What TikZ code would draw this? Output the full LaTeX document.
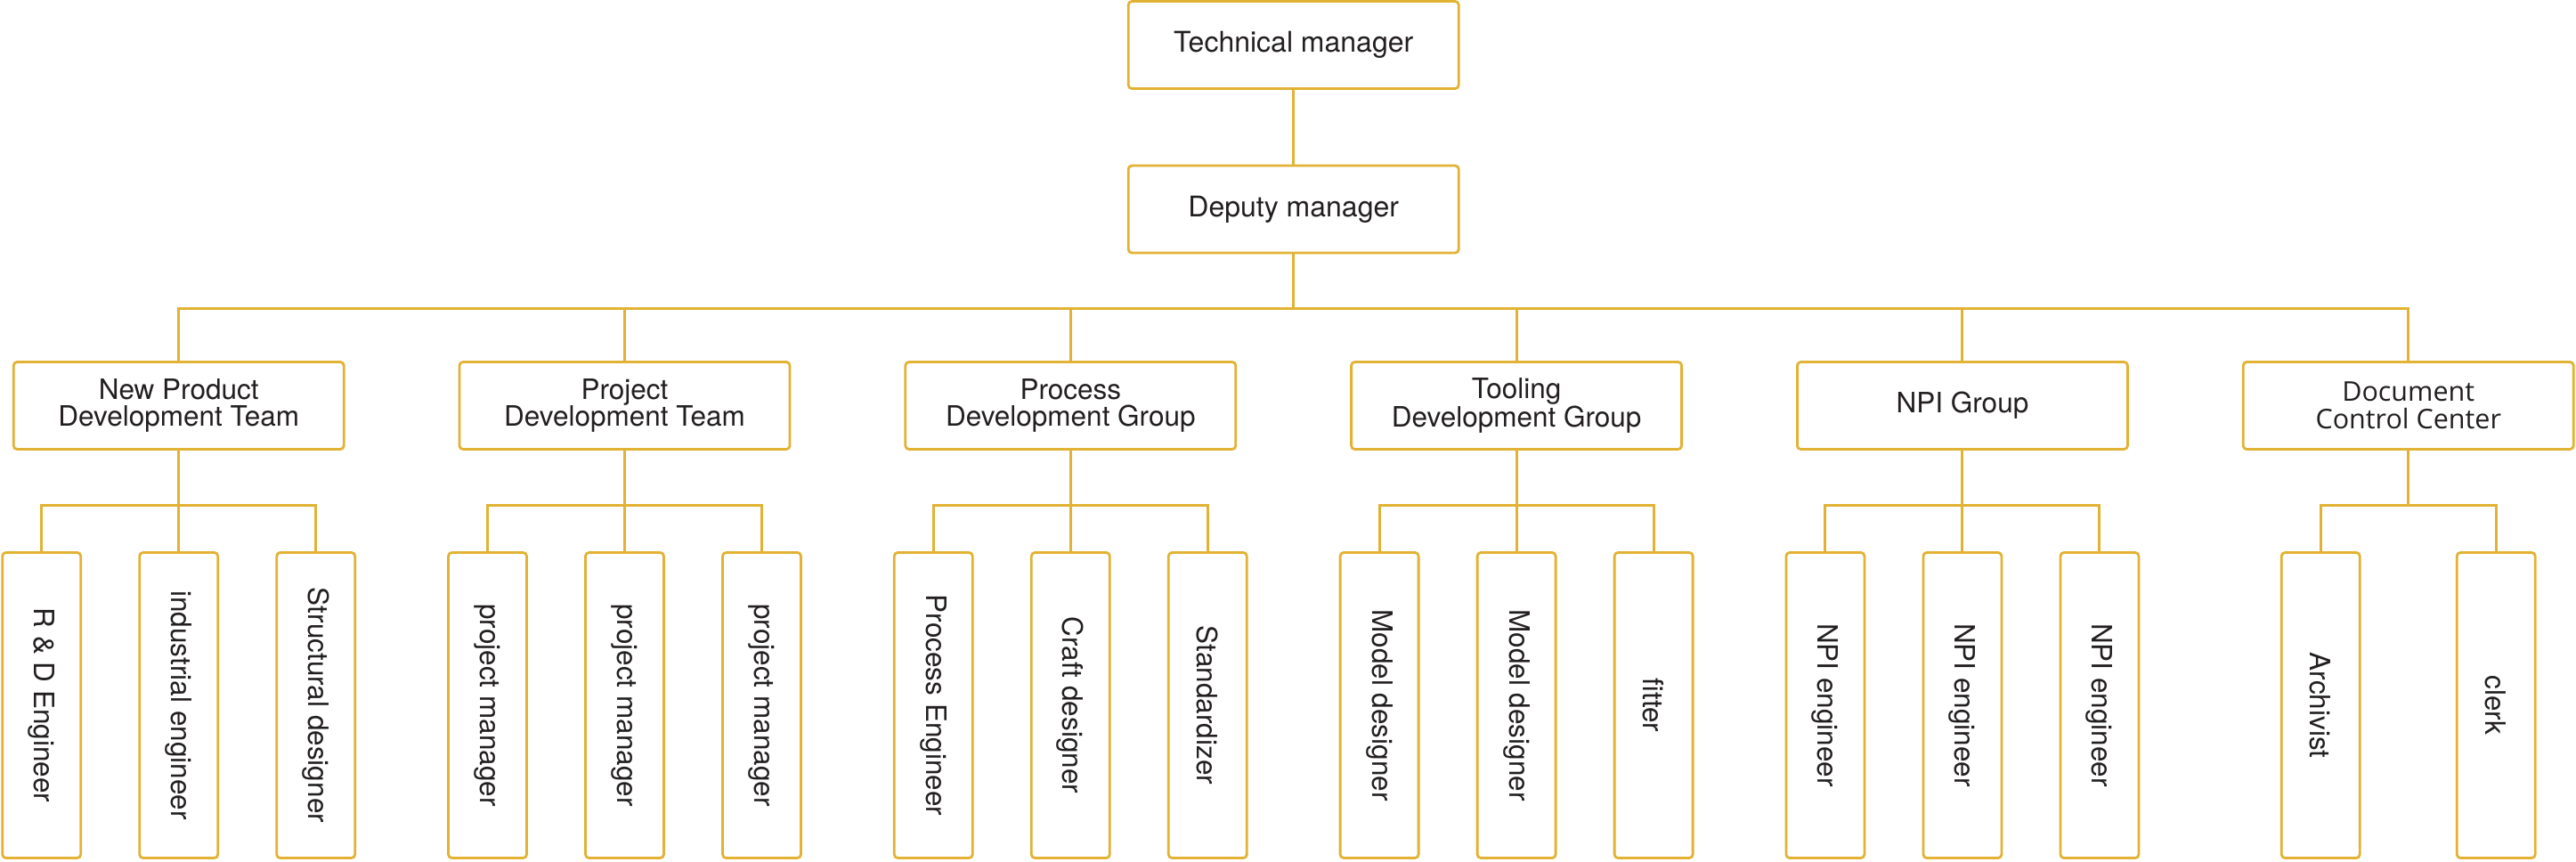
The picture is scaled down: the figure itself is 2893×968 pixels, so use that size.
\documentclass[tikz,border=0pt]{standalone}
\usepackage{fontspec}
\setmainfont{TeX Gyre Heros}
\newfontfamily\dccfont{Open Sans}
\definecolor{gold}{RGB}{226,178,52}
\definecolor{ink}{RGB}{35,31,32}
\begin{document}
\begin{tikzpicture}[x=1pt,y=-1pt,
  box/.style={draw=gold, line width=2.8pt, rounded corners=4pt, fill=white, text=ink, inner sep=0pt, align=center},
  topbox/.style={box, minimum width=371pt, minimum height=98pt, font=\fontsize{32}{32}\selectfont},
  grp/.style={box, minimum width=371pt, minimum height=98pt, font=\fontsize{31.5}{29.5}\selectfont},
  kid/.style={box, minimum width=88pt, minimum height=343pt},
  vlab/.style={rotate=-90, text=ink, font=\fontsize{31.5}{31.5}\selectfont, inner sep=0pt},
  conn/.style={draw=gold, line width=3pt}]
\useasboundingbox (0,0) rectangle (2893,968);
% top levels
\node[topbox] (tm) at (1452.7,50.5) {Technical manager};
\node[topbox] (dep) at (1452.7,235) {Deputy manager};
\coordinate (bus) at (1452.7,346);
\coordinate (sub) at (0,567);
% groups
\node[grp] (g1) at (200.7,455.5) {New Product\\Development Team};
\node[grp] (g2) at (701.5,455.5) {Project\\Development Team};
\node[grp] (g3) at (1202.3,455.5) {Process\\Development Group};
\node[grp] (g4) at (1703.1,455.5) {Tooling\\Development Group};
\node[grp] (g5) at (2203.9,455.5) {NPI Group};
\node[grp, font=\dccfont\fontsize{30.5}{31}\selectfont] (g6) at (2704.7,455.5) {Document\\Control Center};
% children
\node[kid, label={[vlab]center:R \& D Engineer}] (k11) at (46.7,792) {};
\node[kid, label={[vlab]center:industrial engineer}] (k12) at (200.7,792) {};
\node[kid, label={[vlab]center:Structural designer}] (k13) at (354.7,792) {};
\node[kid, label={[vlab]center:project manager}] (k21) at (547.5,792) {};
\node[kid, label={[vlab]center:project manager}] (k22) at (701.5,792) {};
\node[kid, label={[vlab]center:project manager}] (k23) at (855.5,792) {};
\node[kid, label={[vlab]center:Process Engineer}] (k31) at (1048.3,792) {};
\node[kid, label={[vlab]center:Craft designer}] (k32) at (1202.3,792) {};
\node[kid, label={[vlab]center:Standardizer}] (k33) at (1356.3,792) {};
\node[kid, label={[vlab]center:Model designer}] (k41) at (1549.1,792) {};
\node[kid, label={[vlab]center:Model designer}] (k42) at (1703.1,792) {};
\node[kid, label={[vlab]center:fitter}] (k43) at (1857.1,792) {};
\node[kid, label={[vlab]center:NPI engineer}] (k51) at (2049.9,792) {};
\node[kid, label={[vlab]center:NPI engineer}] (k52) at (2203.9,792) {};
\node[kid, label={[vlab]center:NPI engineer}] (k53) at (2357.9,792) {};
\node[kid, label={[vlab]center:Archivist}] (k61) at (2606.2,792) {};
\node[kid, label={[vlab]center:clerk}] (k62) at (2803.2,792) {};
% connectors
\draw[conn] (tm) -- (dep);
\draw[conn] (dep) -- (bus);
\foreach \g in {g1,g2,g3,g4,g5,g6} \draw[conn] (bus) -| (\g);
\foreach \g in {1,2,3,4,5} {
  \draw[conn] (g\g) -- (g\g |- sub);
  \draw[conn] (g\g |- sub) -| (k\g1);
  \draw[conn] (g\g |- sub) -| (k\g2);
  \draw[conn] (g\g |- sub) -| (k\g3);
}
\draw[conn] (g6) -- (g6 |- sub);
\draw[conn] (g6 |- sub) -| (k61);
\draw[conn] (g6 |- sub) -| (k62);
\end{tikzpicture}
\end{document}
